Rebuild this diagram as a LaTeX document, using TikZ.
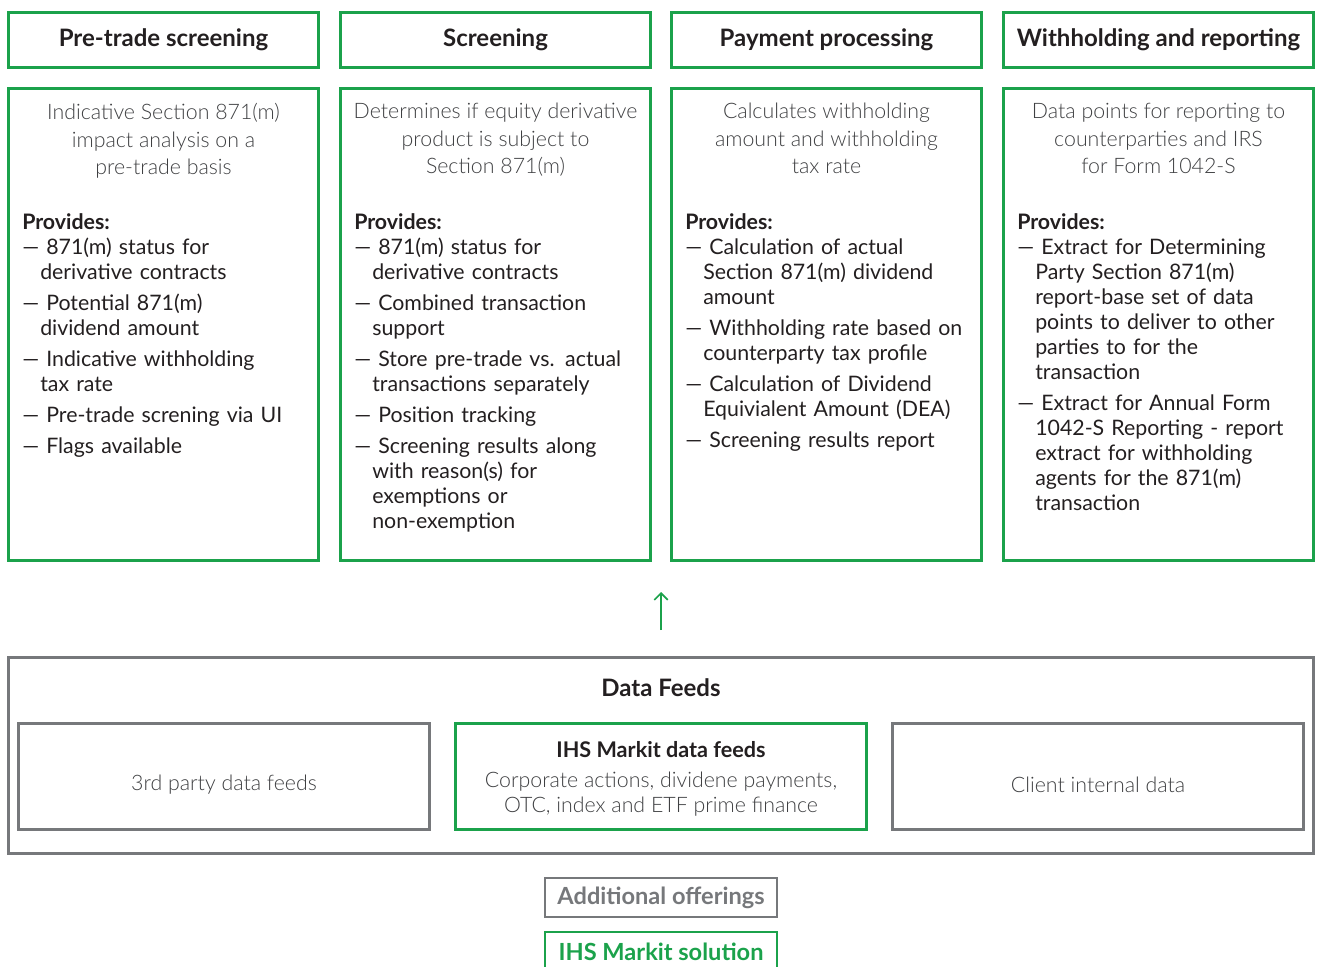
\documentclass[tikz,border=0pt]{standalone}
\usepackage{fontspec}
\setmainfont{Lato}
\newfontfamily\lightfont{Lato Light}
\usepackage{tikz}
\usetikzlibrary{shapes,arrows,arrows.meta}
\usetikzlibrary{calc}
\usetikzlibrary{positioning}
\definecolor{ihsgreen}{HTML}{1BA24B}
\definecolor{framegray}{HTML}{76787B}
\definecolor{darktext}{HTML}{231F20}
\definecolor{lighttext}{HTML}{3F4042}
\tikzstyle{head} = [draw=ihsgreen, line width=2.25pt, rectangle,
    minimum width=232.5pt, minimum height=41.25pt, text=darktext,
    font=\fontsize{18}{20}\selectfont\bfseries]
\tikzstyle{body} = [draw=ihsgreen, line width=2.25pt, rectangle,
    minimum width=232.5pt, minimum height=354pt]
\tikzstyle{intro} = [align=center, inner sep=0pt, anchor=north, text=lighttext,
    font=\lightfont\fontsize{16}{20.6}\selectfont]
\tikzstyle{list} = [align=left, text width=224pt, inner sep=0pt, anchor=north west,
    text=darktext, font=\fontsize{16}{18.75}\selectfont]
\tikzstyle{source} = [draw=framegray, line width=2.25pt, rectangle,
    minimum width=308.25pt, minimum height=79.5pt]
\tikzstyle{legend} = [rectangle, line width=1.5pt, minimum width=174pt,
    minimum height=29.25pt, font=\fontsize{17.7}{20}\selectfont\bfseries]
\newcommand{\itm}[1][4.5pt]{\par\vspace{#1}\noindent\hangindent=13.5pt\hangafter=1 —\ \ignorespaces}
\begin{document}
\begin{tikzpicture}[x=0.75pt,y=-0.75pt,>={Straight Barb[length=5pt,width=10pt]}]
    \useasboundingbox (0,0) rectangle (1317,967);

    % column headers
    \node [head] (hpre) at (163.5,40) {Pre-trade screening};
    \node [head] (hscr) at (495.5,40) {Screening};
    \node [head] (hpay) at (826.5,40) {Payment processing};
    \node [head] (hwth) at (1158.5,40) {Withholding and reporting};

    % column bodies
    \node [body] (pre) at (163.5,324.5) {};
    \node [body] (scr) at (495.5,324.5) {};
    \node [body] (pay) at (826.5,324.5) {};
    \node [body] (wth) at (1158.5,324.5) {};

    \node [intro] (ipre) at (163.5,103) {Indicative Section 871(m)\\impact analysis on a\\pre-trade basis};
    \node [intro] (iscr) at (495.5,103) {Determines if equity derivative\\product is subject to\\Section 871(m)};
    \node [intro] (ipay) at (826.5,103) {Calculates withholding\\amount and withholding\\tax rate};
    \node [intro] (iwth) at (1158.5,103) {Data points for reporting to\\counterparties and IRS\\for Form 1042-S};

    \node [list] (lpre) at (22,213) {\textbf{Provides:}
        \itm[0pt] 871(m) status for\newline derivative contracts
        \itm Potential 871(m)\newline dividend amount
        \itm Indicative withholding\newline tax rate
        \itm Pre-trade screning via UI
        \itm Flags available\par};
    \node [list] (lscr) at (354,213) {\textbf{Provides:}
        \itm[0pt] 871(m) status for\newline derivative contracts
        \itm Combined transaction\newline support
        \itm Store pre-trade vs. actual\newline transactions separately
        \itm Position tracking
        \itm Screening results along\newline with reason(s) for\newline exemptions or\newline non-exemption\par};
    \node [list] (lpay) at (685,213) {\textbf{Provides:}
        \itm[0pt] Calculation of actual\newline Section 871(m) dividend\newline amount
        \itm Withholding rate based on\newline counterparty tax profile
        \itm Calculation of Dividend\newline Equivialent Amount (DEA)
        \itm Screening results report\par};
    \node [list] (lwth) at (1017,213) {\textbf{Provides:}
        \itm[0pt] Extract for Determining\newline Party Section 871(m)\newline report-base set of data\newline points to deliver to other\newline parties to for the\newline transaction
        \itm Extract for Annual Form\newline 1042-S Reporting - report\newline extract for withholding\newline agents for the 871(m)\newline transaction\par};

    % data feeds
    \node [draw=framegray, line width=2.25pt, rectangle, minimum width=978.75pt,
        minimum height=147pt] (feeds) at (661,755.5) {};
    \node [text=darktext, font=\fontsize{18}{20}\selectfont\bfseries] (ftitle) at (661,688) {Data Feeds};

    \node [source] (third) at (224,776) {};
    \node [source, draw=ihsgreen] (ihs) at (661,776) {};
    \node [source] (client) at (1098,776) {};

    \node [text=lighttext, font=\lightfont\fontsize{16}{18}\selectfont] (tthird) at (224,785) {3rd party data feeds};
    \node [text=darktext, font=\fontsize{16.2}{18}\selectfont\bfseries] (tihs) at (661,750) {IHS Markit data feeds};
    \node [text=lighttext, align=center, font=\lightfont\fontsize{16}{18.4}\selectfont] (dihs) at (661,794)
        {Corporate actions, dividene payments,\\OTC, index and ETF prime finance};
    \node [text=lighttext, font=\lightfont\fontsize{16}{18}\selectfont] (tclient) at (1098,785) {Client internal data};

    \draw [->, ihsgreen, line width=1.3pt, shorten <=19.5pt, shorten >=22.5pt]
        (feeds.north) -- (feeds.north |- pay.south);

    % legend
    \node [legend, draw=framegray, text=framegray] (offer) at (661,897.5) {Additional offerings};
    \node [legend, draw=ihsgreen, text=ihsgreen, anchor=north] (solution) at (661,931) {IHS Markit solution};
\end{tikzpicture}
\end{document}
